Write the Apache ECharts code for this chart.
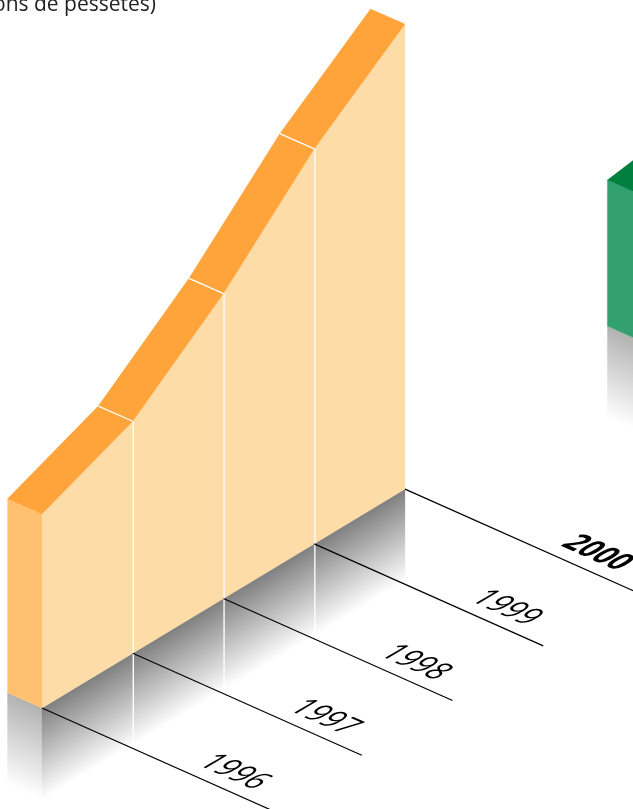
<!DOCTYPE html>
<html><head><meta charset="utf-8">
<style>html,body{margin:0;padding:0;background:#fff;overflow:hidden}#c{width:633px;height:809px}</style>
<script src="https://cdn.jsdelivr.net/npm/echarts@6/dist/echarts.min.js"></script>
</head><body><div id="c"></div>
<script>
const years = [1996, 1997, 1998, 1999, 2000];
const yearLabels = ['1996', '1997', '1998', '1999', '2000'];
const orangeValues = [194, 232, 305, 395, 465];
const greenPositions = [2002.61, 2003.61];
const greenValues = [146, 161];
const unitNote = '(milions de pessetes)';

// isometric projection constants (drawing style, not data)
const FLOOR_SLOPE = -0.603, DEPTH_X = -34.5, DEPTH_Y = -15.2, SHADOW = 92;
const GROUND_X = 229, GROUND_Y = 102;
const ORIGIN_X = 42;

function iso(api, x, v, shift) {
  const p = api.coord([x, v]);
  return [p[0], p[1] + (p[0] - ORIGIN_X) * FLOOR_SLOPE + (shift || 0)];
}
function floorGradient(px, py, top) {
  const len = Math.hypot(1, FLOOR_SLOPE), nx = -FLOOR_SLOPE / len, ny = 1 / len, d = SHADOW * ny;
  return {type:'linear', global:true, x:px, y:py, x2:px + nx * d, y2:py + ny * d,
    colorStops:[{offset:0,color:top},{offset:1,color:'#ffffff'}]};
}
function sideGradient(px, py, top) {
  const s = -DEPTH_Y / -DEPTH_X, len = Math.hypot(1, s), nx = -s / len, ny = 1 / len, d = SHADOW * ny;
  return {type:'linear', global:true, x:px, y:py, x2:px + nx * d, y2:py + ny * d,
    colorStops:[{offset:0,color:top},{offset:1,color:'#ffffff'}]};
}
function poly(points, fill, z2) {
  return {type:'polygon', z2, shape:{points}, style:{fill, stroke:fill, lineWidth:0.3}};
}
function seg(a, b, stroke, lineWidth, z2) {
  return {type:'line', z2, shape:{x1:a[0],y1:a[1],x2:b[0],y2:b[1]}, style:{stroke, lineWidth, fill:null}};
}
// affine text on the floor plane: nested rotate/scale/rotate = any 2x2 matrix
function floorText(text, cx, cy, bold) {
  const a = 1.26, b = 0.56, c = -1.5, d = 0.88;
  const E=(a+d)/2, F=(a-d)/2, G=(b+c)/2, H=(b-c)/2;
  const Q=Math.hypot(E,H), R=Math.hypot(F,G), sx=Q+R, sy=Q-R;
  const a1=Math.atan2(G,F), a2=Math.atan2(H,E), th=(a2-a1)/2, ph=(a2+a1)/2;
  return {type:'group', x:cx, y:cy, rotation:-ph, scaleX:sx, scaleY:sy, children:[
    {type:'text', rotation:-th, z2:9, style:{text, x:0, y:0, align:'center', verticalAlign:'middle',
      fill:'#000', font:(bold?'bold ':'')+'20px "Open Sans"'}}
  ]};
}

function wall(xs, vals, colors, opts) {
  return function (params, api) {
    const i = params.dataIndex, shift = opts.shift || 0, ch = [];
    const x = xs[i], v = vals[i];
    const base = iso(api, x, 0, shift), top = iso(api, x, v, shift);
    if (i === 0) {
      const tb = [top[0]+DEPTH_X, top[1]+DEPTH_Y], bb = [base[0]+DEPTH_X, base[1]+DEPTH_Y];
      ch.push(poly([tb, top, base, bb], colors.side, 3));
      ch.push(poly([bb, base, [base[0],base[1]+SHADOW], [bb[0],bb[1]+SHADOW]], sideGradient(bb[0],bb[1],'#b2b2b2'), 1));
    }
    if (i < xs.length - 1) {
      const b2 = iso(api, xs[i+1], 0, shift), t2 = iso(api, xs[i+1], vals[i+1], shift);
      ch.push(poly([top, t2, b2, base], colors.front, 3));
      ch.push(poly([top, t2, [t2[0]+DEPTH_X,t2[1]+DEPTH_Y], [top[0]+DEPTH_X,top[1]+DEPTH_Y]], colors.top, 3));
      ch.push(poly([base, b2, [b2[0],b2[1]+SHADOW], [base[0],base[1]+SHADOW]], floorGradient(base[0],base[1],'#808080'), 1));
    }
    if (opts.ground) {
      if (i > 0 && i < xs.length - 1) {
        ch.push(seg([top[0]+0.6,top[1]], [base[0]+0.6, base[1]+SHADOW], '#ffffff', 1.3, 5));
        ch.push(seg(top, [top[0]+DEPTH_X, top[1]+DEPTH_Y], '#ffffff', 1.3, 5));
      }
      ch.push(seg(base, [base[0]+GROUND_X, base[1]+GROUND_Y], '#000000', 1.2, 6));
      ch.push(floorText(yearLabels[i], base[0]+192, base[1]+64, i === xs.length-1));
    }
    return {type:'group', children:ch};
  };
}

const chart = echarts.init(document.getElementById('c'), null, {renderer:'canvas'});
chart.setOption({
  animation:false, backgroundColor:'#fff',
  title:{text:unitNote, right:477, top:-5, padding:0,
    textStyle:{fontFamily:'"Open Sans"', fontSize:21, fontWeight:'normal', color:'#222'}},
  grid:{left:42, width:363, top:8, height:700},
  xAxis:{type:'value', min:1996, max:2000, show:false},
  yAxis:{type:'value', min:0, max:700, show:false},
  series:[
    {type:'custom', name:'orange', clip:false, coordinateSystem:'cartesian2d',
     data:years.map((y,i)=>[y,orangeValues[i]]),
     renderItem:wall(years, orangeValues, {front:'#FEDCA8', top:'#FFA33B', side:'#FFC170'}, {ground:true})},
    {type:'custom', name:'green', clip:false, coordinateSystem:'cartesian2d',
     data:greenPositions.map((y,i)=>[y,greenValues[i]]),
     renderItem:wall(greenPositions, greenValues, {front:'#33A070', top:'#00803F', side:'#33A070'}, {shift:-5})}
  ]
});
</script></body></html>
